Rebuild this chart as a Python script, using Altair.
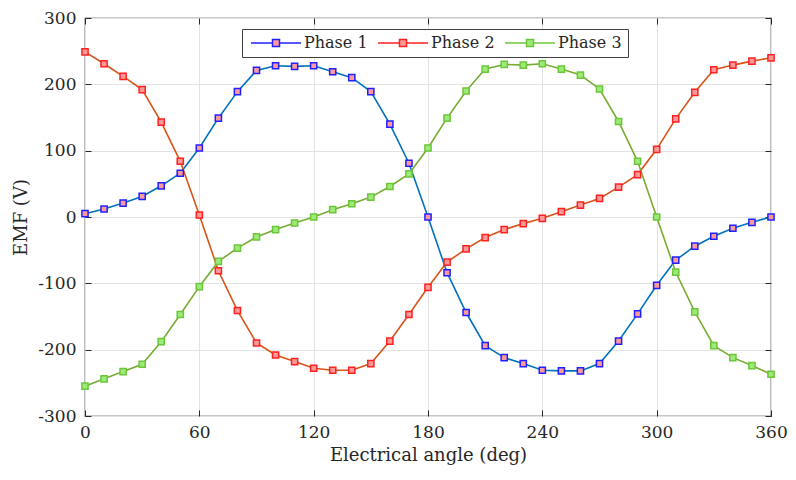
import altair as alt
import pandas as pd

angles = list(range(0, 361, 10))
phase1 = [5, 12, 21, 31, 47, 66, 104, 149, 189, 221, 228, 227, 228, 219, 210, 189, 140, 81, 0,
          -84, -144, -194, -212, -221, -231, -232, -232, -221, -187, -146, -103, -65, -44, -29, -17, -8, 0]
phase2 = [249, 231, 212, 192, 143, 84, 3, -81, -141, -190, -208, -218, -228, -231, -231, -221, -187, -147, -106,
          -68, -48, -31, -19, -10, -2, 8, 18, 28, 45, 64, 102, 148, 188, 222, 229, 235, 240]
phase3 = [-255, -244, -233, -222, -188, -147, -105, -67, -47, -30, -19, -9, 0, 11, 20, 30, 46, 65, 104,
          149, 190, 223, 230, 229, 231, 223, 214, 193, 144, 84, 0, -83, -143, -194, -212, -224, -237]
series = ["Phase 1", "Phase 2", "Phase 3"]
line_colors = ["#0072BD", "#D95319", "#77AC30"]
edge_colors = ["#2020FF", "#FF2020", "#6CC63A"]
face_colors = ["#FF9A9A", "#FF9A9A", "#9CEB78"]
x_ticks = [0, 60, 120, 180, 240, 300, 360]
y_ticks = [-300, -200, -100, 0, 100, 200, 300]

rows = []
for name, vals in zip(series, [phase1, phase2, phase3]):
    for a, v in zip(angles, vals):
        rows.append({"angle": a, "emf": v, "series": name, "line": name})
df = pd.DataFrame(rows)

FONT = "DejaVu Serif"
TXT = "#262626"
xs = alt.Scale(domain=[0, 360], nice=False, zero=False)
ys = alt.Scale(domain=[-300, 300], nice=False, zero=False)

base = alt.Chart(df)

lines = base.mark_line(strokeWidth=1.6).encode(
    x=alt.X("angle:Q", scale=xs, axis=alt.Axis(
        orient="bottom", values=x_ticks, title="Electrical angle (deg)", grid=True,
        gridColor="#E3E3E3", domain=False, ticks=False, tickSize=0, labelPadding=8,
        labelFlush=False, labelOverlap=False,
        labelFont=FONT, labelFontSize=17, labelColor=TXT, titleFont=FONT, titleFontSize=18,
        titleFontWeight="normal", titleColor=TXT, titlePadding=6)),
    y=alt.Y("emf:Q", scale=ys, axis=alt.Axis(
        orient="left", values=y_ticks, title="EMF (V)", grid=True, gridColor="#E3E3E3",
        domain=False, ticks=False, tickSize=0, labelPadding=9, labelExpr="toString(datum.value)",
        labelFlush=False, labelOverlap=False,
        labelFont=FONT, labelFontSize=17, labelColor=TXT, titleFont=FONT, titleFontSize=18,
        titleFontWeight="normal", titleColor=TXT, titlePadding=7)),
    color=alt.Color("line:N", scale=alt.Scale(range=line_colors), legend=None),
)

# legend glyph: a line with a small square in the middle, drawn to the right of the
# nominal symbol cell (cell diameter 10px, glyph spans 50px)
sym = "M-1,0H3.3M4.7,0H9M3.3,-0.7H4.7V0.7H3.3Z"
leg = alt.Legend(orient="none", legendX=157, legendY=11, direction="horizontal", columns=3,
                 symbolType=sym, symbolSize=100, symbolStrokeWidth=1.5, labelFont=FONT,
                 labelFontSize=16, labelColor=TXT, labelOffset=40, columnPadding=7, padding=6,
                 strokeColor="#404040", fillColor="white")

points = base.mark_square(size=38, strokeWidth=1.5, opacity=1).encode(
    x=alt.X("angle:Q", scale=xs, axis=alt.Axis(
        orient="bottom", values=x_ticks, title=None, labels=False, grid=False, domain=False,
        ticks=True, tickSize=6, offset=-6, tickColor=TXT)),
    y=alt.Y("emf:Q", scale=ys, axis=alt.Axis(
        orient="left", values=y_ticks, title=None, labels=False, grid=False, domain=False,
        ticks=True, tickSize=6, offset=-6, tickColor=TXT)),
    fill=alt.Fill("series:N", scale=alt.Scale(domain=series, range=face_colors), legend=leg, title=None),
    stroke=alt.Stroke("series:N", scale=alt.Scale(domain=series, range=edge_colors), legend=leg, title=None),
)

frame = base.mark_point(opacity=0).encode(
    x=alt.X("angle:Q", scale=xs, axis=alt.Axis(
        orient="top", values=x_ticks, title=None, labels=False, grid=False, domain=False,
        ticks=True, tickSize=6, offset=-6, tickColor=TXT)),
    y=alt.Y("emf:Q", scale=ys, axis=alt.Axis(
        orient="right", values=y_ticks, title=None, labels=False, grid=False, domain=False,
        ticks=True, tickSize=6, offset=-6, tickColor=TXT)),
)

chart = alt.layer(lines, points, frame).resolve_axis(x="independent", y="independent").properties(
    width=686, height=398,
    autosize=alt.AutoSizeParams(type="none"),
    padding={"left": 77, "top": 10, "right": 17, "bottom": 50},
).configure_view(stroke=TXT, strokeWidth=1.2)

chart.save("out.html", embed_options={"renderer": "svg", "actions": False})
